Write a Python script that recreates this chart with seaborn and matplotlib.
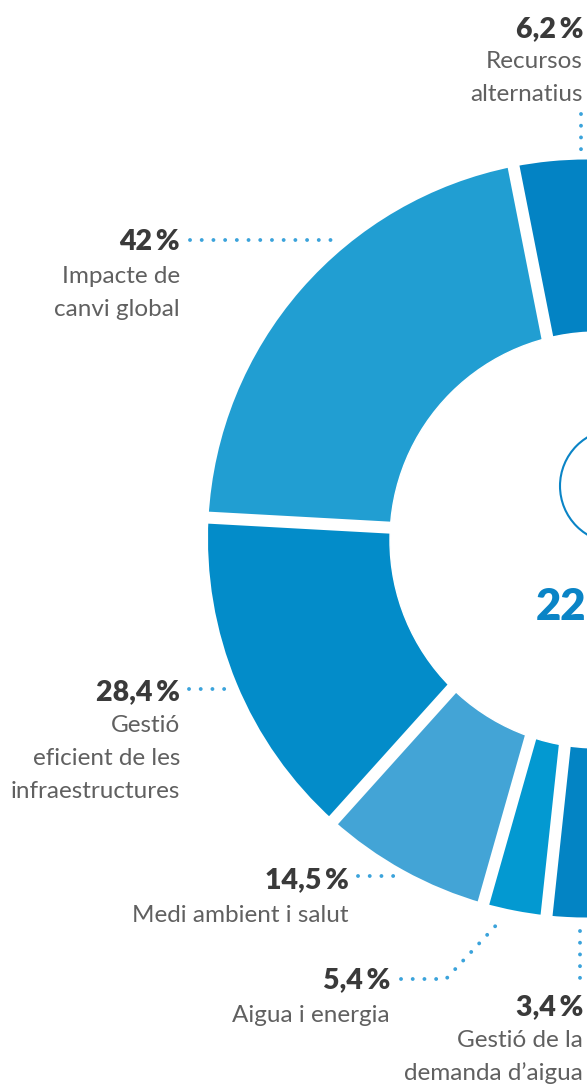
import seaborn as sns
import matplotlib.pyplot as plt
import matplotlib.patches as mpatches
import numpy as np

# data
categories = ['Recursos\nalternatius', 'Impacte de\ncanvi global',
              'Gestió\neficient de les\ninfraestructures', 'Medi ambient i salut',
              'Aigua i energia', 'Gestió de la\ndemanda d’aigua']
values = [6.2, 42, 28.4, 14.5, 5.4, 3.4]
colors = ['#0383c4', '#219ed2', '#038cc9', '#43a4d6', '#0399d1', '#0384c4']
center_label = '22'

sns.set_theme(style='white')
plt.rcParams['font.family'] = ['Lato', 'DejaVu Sans']

fig = plt.figure(figsize=(5.87, 10.84), dpi=100)
ax = fig.add_axes([0, 0, 1, 1])

# half donut, drawn top -> left -> bottom (y axis is flipped below)
cx, cy, R = 587, 538.5, 379
fracs = np.array(values) / sum(values) / 2
wedges, _ = ax.pie(fracs, colors=colors, normalize=False, startangle=-90,
                   counterclock=False, radius=R, center=(cx, cy),
                   wedgeprops=dict(linewidth=0))

# white gaps between the slices
for w in wedges[:-1]:
    a = np.deg2rad(w.theta1)
    ax.plot([cx, cx + (R + 20) * np.cos(a)], [cy, cy + (R + 20) * np.sin(a)],
            color='white', lw=12 * 0.72, solid_capstyle='butt', zorder=3)

# hole and the small ring icon
ax.add_patch(mpatches.Circle((598, 540), 208, color='white', zorder=4))
ax.add_patch(mpatches.Circle((617, 486), 57, fill=False, ec='#0a84c6', lw=1.5, zorder=5))
ax.text(536, 620, center_label, color='#0a84c6', fontsize=31.5, fontweight='heavy',
        ha='left', va='baseline', zorder=6)

# labels: right x, baseline of the percentage, baseline of first text line
label_pos = [(583, 37, 68), (180, 250, 283), (180, 700, 732),
             (349, 888, 922), (390, 988, 1022), (583, 1015, 1047)]
for v, cat, (xr, yp, yl) in zip(values, categories, label_pos):
    pct = f'{v:g}'.replace('.', ',') + '\u2009%'
    ax.text(xr, yp, pct, ha='right', va='baseline', fontsize=20.5,
            fontweight='heavy', color='#3a3a3a', zorder=6)
    for i, line in enumerate(cat.split('\n')):
        ax.text(xr, yl + i * 33, line, ha='right', va='baseline', fontsize=17.5,
                fontweight='normal', color='#606060', zorder=6)

# dotted leader lines
leaders = [([581, 581], [114, 150]),
           ([190, 331], [240, 240]),
           ([189, 229], [689, 689]),
           ([358, 397], [876, 876]),
           ([401, 446, 501], [979, 979, 920]),
           ([580, 580], [931, 979])]
for xs, ys in leaders:
    ax.plot(xs, ys, color='#3ba3db', lw=2.8, linestyle=(0, (0.01, 3.0)),
            dash_capstyle='round', zorder=6)

ax.set_xlim(0, 587)
ax.set_ylim(1084, 0)
ax.set_aspect('auto')
ax.axis('off')

fig.savefig('out.png', dpi=100)
